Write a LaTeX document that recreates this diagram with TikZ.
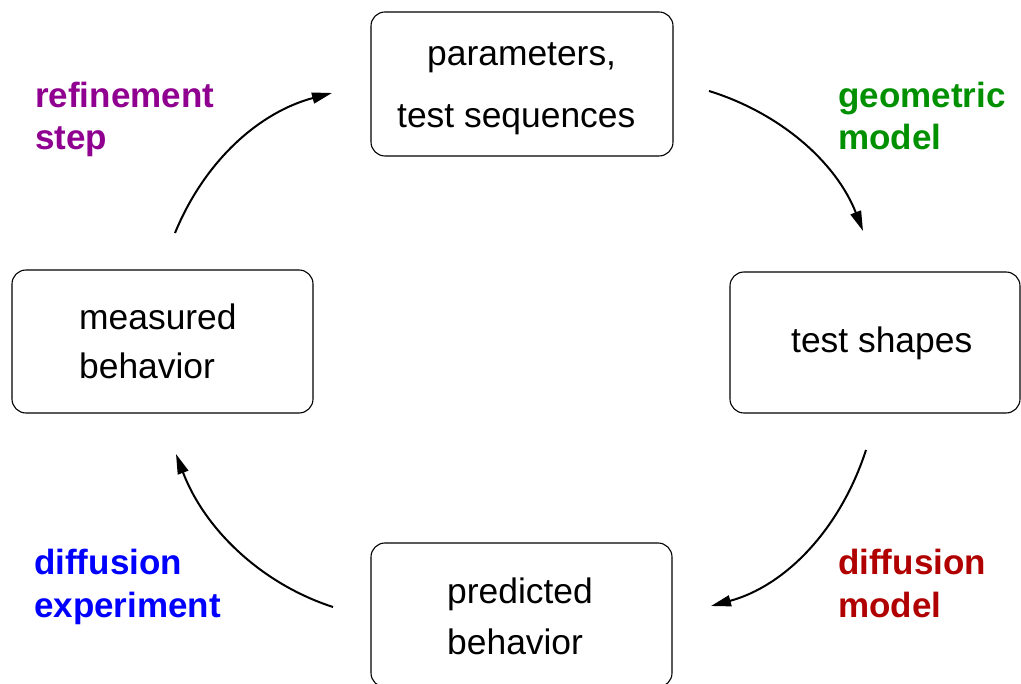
\documentclass[tikz,border=0pt]{standalone}
\usepackage{fontspec}
\setmainfont{Liberation Sans}
\usetikzlibrary{arrows.meta}
\definecolor{cpurple}{HTML}{900090}
\definecolor{cgreen}{HTML}{009000}
\definecolor{cred}{HTML}{B00000}
\definecolor{cblue}{HTML}{0000FF}
\begin{document}
\begin{tikzpicture}[x=1pt,y=-1pt,
  box/.style={draw, rounded corners=14pt, line width=1.1pt, inner sep=0pt},
  txt/.style={anchor=base west, inner sep=0pt, font=\fontsize{35.4}{42}\selectfont},
  lbl/.style={anchor=base west, inner sep=0pt, font=\fontsize{35}{42}\selectfont\bfseries},
  cyc/.style={line width=2pt, -{Triangle[length=20pt,width=11pt]}}]
\useasboundingbox (0,0) rectangle (1021,684);
% boxes
\node[box, minimum width=302pt, minimum height=144pt] (params) at (522,84) {};
\node[box, minimum width=290pt, minimum height=141pt] (shapes) at (875,342.5) {};
\node[box, minimum width=301pt, minimum height=143pt] (measured) at (162.5,341.5) {};
\node[box, minimum width=301pt, minimum height=144pt] (predicted) at (521.5,615) {};
% box texts
\node[txt] (t1a) at (427,66) {parameters,};
\node[txt] (t1b) at (397,128) {test sequences};
\node[txt] (t2) at (791,353) {test shapes};
\node[txt] (t3a) at (79,330) {measured};
\node[txt] (t3b) at (79,379) {behavior};
\node[txt] (t4a) at (447,604) {predicted};
\node[txt] (t4b) at (447,654) {behavior};
% labels
\node[lbl, text=cpurple] (l1a) at (35,108) {refinement};
\node[lbl, text=cpurple] (l1b) at (35,150) {step};
\node[lbl, text=cgreen] (l2a) at (838,108) {geometric};
\node[lbl, text=cgreen] (l2b) at (838,150) {model};
\node[lbl, text=cred] (l3a) at (838,575) {diffusion};
\node[lbl, text=cred] (l3b) at (838,617) {model};
\node[lbl, text=cblue] (l4a) at (34,575) {diffusion};
\node[lbl, text=cblue] (l4b) at (34,617) {experiment};
% arc end points
\coordinate (a1s) at (175,233);
\coordinate (a1e) at (332,93);
\coordinate (a2s) at (709,91);
\coordinate (a2e) at (863,231);
\coordinate (a3s) at (866,450);
\coordinate (a3e) at (711,606);
\coordinate (a4s) at (333,607);
\coordinate (a4e) at (176,454);
% arcs
\draw[cyc] (a1s) .. controls (205,160) and (260,112) .. (a1e);
\draw[cyc] (a2s) .. controls (780,113) and (836,162) .. (a2e);
\draw[cyc] (a3s) .. controls (840,530) and (785,586) .. (a3e);
\draw[cyc] (a4s) .. controls (262,584) and (205,530) .. (a4e);
\end{tikzpicture}
\end{document}
